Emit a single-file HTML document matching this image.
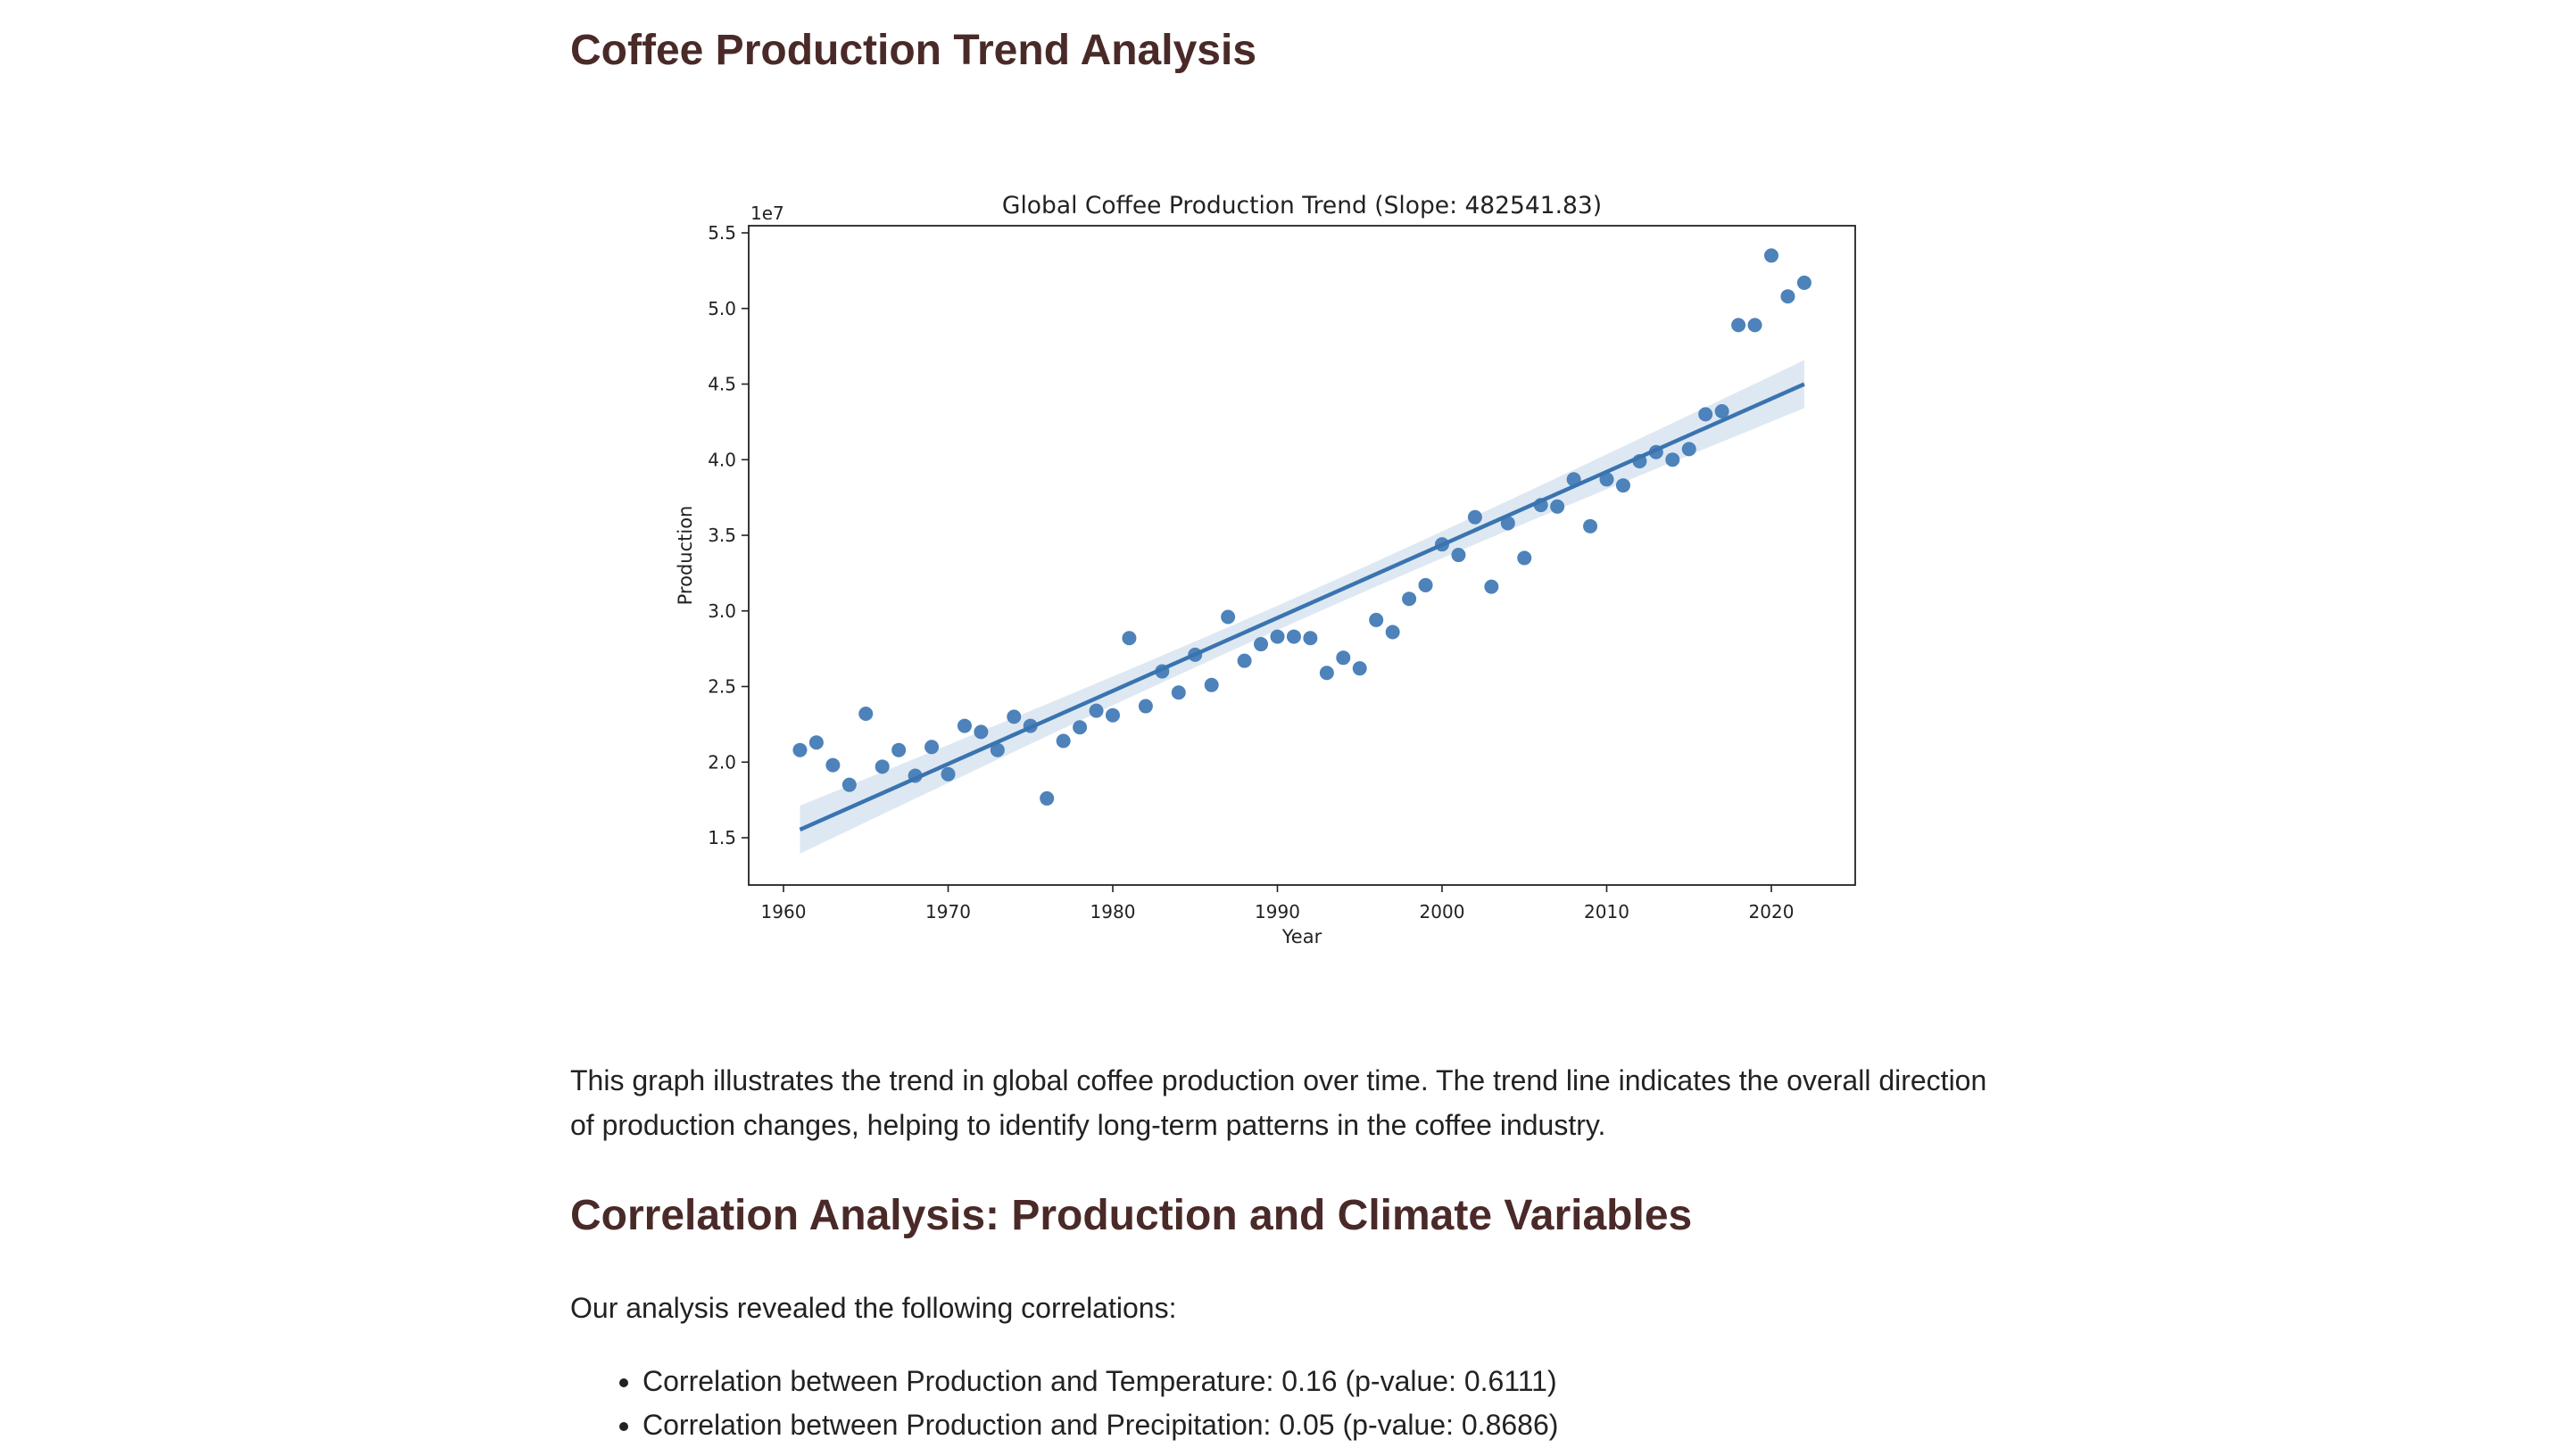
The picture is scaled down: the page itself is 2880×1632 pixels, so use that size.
<!DOCTYPE html>
<html><head><meta charset="utf-8"><style>
body{margin:0;width:2880px;height:1632px;background:#fff;position:relative;overflow:hidden;font-family:"Liberation Sans",Arial,sans-serif;}
.t{position:absolute;white-space:nowrap;color:#222;}
h1,h2{margin:0;position:absolute;white-space:nowrap;color:#4a2a28;font-weight:bold;font-size:48px;}
.p{font-size:32px;line-height:50px;}
</style></head><body>
<h1 style="left:639px;top:29px;">Coffee Production Trend Analysis</h1>
<svg id="chart" width="2880" height="1632" style="position:absolute;left:0;top:0" font-family="DejaVu Sans, sans-serif"></svg>
<div class="t p" style="left:639px;top:1186px;">This graph illustrates the trend in global coffee production over time. The trend line indicates the overall direction<br>of production changes, helping to identify long-term patterns in the coffee industry.</div>
<h2 style="left:639px;top:1335px;">Correlation Analysis: Production and Climate Variables</h2>
<div class="t p" style="left:639px;top:1441px;">Our analysis revealed the following correlations:</div>
<ul style="position:absolute;left:639px;top:1524px;margin:0;padding-left:81px;font-size:32px;line-height:49px;color:#222;white-space:nowrap;">
<li>Correlation between Production and Temperature: 0.16 (p-value: 0.6111)</li>
<li>Correlation between Production and Precipitation: 0.05 (p-value: 0.8686)</li>
</ul>
<script>
const years=[];for(let y=1961;y<=2022;y++)years.push(y);
const production=[2.08,2.13,1.98,1.85,2.32,1.97,2.08,1.91,2.10,1.92,2.24,2.20,2.08,2.30,2.24,1.76,2.14,2.23,2.34,2.31,2.82,2.37,2.60,2.46,2.71,2.51,2.96,2.67,2.78,2.83,2.83,2.82,2.59,2.69,2.62,2.94,2.86,3.08,3.17,3.44,3.37,3.62,3.16,3.58,3.35,3.70,3.69,3.87,3.56,3.87,3.83,3.99,4.05,4.00,4.07,4.30,4.32,4.89,4.89,5.35,5.08,5.17];
const xTicks=[1960,1970,1980,1990,2000,2010,2020];
const yTicks=[1.5,2.0,2.5,3.0,3.5,4.0,4.5,5.0,5.5];
const svg=document.getElementById('chart');const NS='http://www.w3.org/2000/svg';
const L=839,R=2079,T=253,B=992;
const X=v=>878+(v-1960)*18.45;
const Y=v=>939-(v-1.5)*(939-261)/4;
function mk(tag,attrs,parent){const e=document.createElementNS(NS,tag);for(const k in attrs)e.setAttribute(k,attrs[k]);(parent||svg).appendChild(e);return e;}
const n=years.length,mx=years.reduce((a,b)=>a+b)/n,my=production.reduce((a,b)=>a+b)/n;
let sxx=0,sxy=0;years.forEach((x,i)=>{sxx+=(x-mx)**2;sxy+=(x-mx)*(production[i]-my);});
const b=sxy/sxx,a=my-b*mx;let sse=0;years.forEach((x,i)=>{sse+=(production[i]-a-b*x)**2;});
const s=Math.sqrt(sse/(n-2));
const x0=years[0],x1=years[n-1];
const up=[],lo=[];for(let k=0;k<=60;k++){const x=x0+(x1-x0)*k/60;const h=2.0*s*Math.sqrt(1/n+(x-mx)**2/sxx);up.push(X(x)+','+Y(a+b*x+h));lo.unshift(X(x)+','+Y(a+b*x-h));}
const band=mk('polygon',{points:up.concat(lo).join(' '),fill:'#4a80b8','fill-opacity':0.18});


years.forEach((yr,i)=>{const c=mk('circle',{cx:X(yr),cy:Y(production[i]),r:8,fill:'#4d82ba'});

});
const ln=mk('line',{x1:X(x0),y1:Y(a+b*x0),x2:X(x1),y2:Y(a+b*x1),stroke:'#3a74b0','stroke-width':4.5});


const fr=mk('rect',{x:L,y:T,width:R-L,height:B-T,fill:'none',stroke:'#222','stroke-width':1.8});


xTicks.forEach(v=>{mk('line',{x1:X(v),x2:X(v),y1:B,y2:B+8,stroke:'#222','stroke-width':1.6});
const t=mk('text',{x:X(v),y:B+37,'text-anchor':'middle','font-size':20,fill:'#222'});t.textContent=v;

});
yTicks.forEach(v=>{mk('line',{x1:L-8,x2:L,y1:Y(v),y2:Y(v),stroke:'#222','stroke-width':1.6});
const t=mk('text',{x:L-14,y:Y(v)+7,'text-anchor':'end','font-size':20,fill:'#222'});t.textContent=v.toFixed(1);

});
let t=mk('text',{x:L+2,y:246,'font-size':20,fill:'#222'});t.textContent='1e7';


t=mk('text',{x:(L+R)/2,y:239,'text-anchor':'middle','font-size':26.5,fill:'#222'});t.textContent='Global Coffee Production Trend (Slope: 482541.83)';


t=mk('text',{x:(L+R)/2,y:1057,'text-anchor':'middle','font-size':21,fill:'#222'});t.textContent='Year';


t=mk('text',{x:775,y:(T+B)/2,'text-anchor':'middle','font-size':21,fill:'#222',transform:'rotate(-90 775 '+((T+B)/2)+')'});t.textContent='Production';


</script>
</body></html>
